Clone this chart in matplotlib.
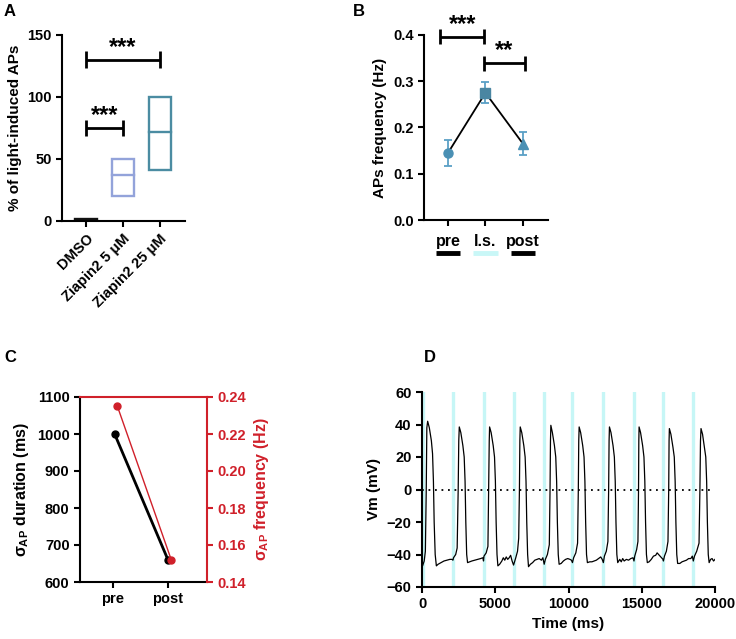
import matplotlib.pyplot as plt
import numpy as np

plt.rcParams['font.family'] = ['Liberation Sans', 'DejaVu Sans']
plt.rcParams['font.weight'] = 'bold'
plt.rcParams['axes.labelweight'] = 'bold'
plt.rcParams['font.size'] = 10.5
plt.rcParams['axes.linewidth'] = 1.5
plt.rcParams['xtick.major.width'] = 1.5
plt.rcParams['ytick.major.width'] = 1.5
plt.rcParams['xtick.major.size'] = 4
plt.rcParams['ytick.major.size'] = 4
plt.rcParams['mathtext.fontset'] = 'custom'
plt.rcParams['mathtext.rm'] = 'Liberation Sans:bold'
plt.rcParams['mathtext.it'] = 'Liberation Sans:bold'
plt.rcParams['mathtext.bf'] = 'Liberation Sans:bold'

W, H = 736, 639

# ---- panel A: % of light-induced APs (floating bars, min / mean / max)
a_groups = ['DMSO', 'Ziapin2 5 \u03bcM', 'Ziapin2 25 \u03bcM']
a_min = [0, 20, 41]
a_mean = [0, 37, 72]
a_max = [1.5, 50, 100]
a_colors = ['#111111', '#93a3da', '#4b8ca2']

# ---- panel B: APs frequency (Hz)
b_groups = ['pre', 'l.s.', 'post']
b_mean = [0.145, 0.275, 0.165]
b_err = [0.029, 0.023, 0.025]
b_bar_colors = ['black', '#c9f7f7', 'black']

# ---- panel C: sigma of AP duration / frequency
c_groups = ['pre', 'post']
c_duration = [1000, 660]
c_frequency = [0.235, 0.152]

# ---- panel D: membrane potential trace
stim_times = [40, 2114, 4205, 6295, 8341, 10273, 12386, 14477, 16477, 18523]
trace_t = [0, 40, 150, 230, 290, 330, 386, 500, 640, 720, 780, 830, 900, 980, 1100, 1300, 1500, 1700, 1900, 2050, 2110,
           2150, 2300, 2400, 2470, 2510, 2545, 2650, 2790, 2880, 2940, 2990, 3050, 3110, 3250, 3400, 3600, 3800, 4000, 4150, 4200,
           4230, 4380, 4500, 4550, 4590, 4614, 4720, 4860, 4950, 5010, 5060, 5120, 5180, 5300, 5450, 5550, 5650, 5750, 5850, 5950, 6050, 6150, 6250, 6300,
           6400, 6520, 6600, 6650, 6680, 6705, 6810, 6950, 7040, 7100, 7150, 7210, 7270, 7400, 7550, 7700, 7850, 8000, 8150, 8250, 8340,
           8420, 8560, 8690, 8740, 8770, 8795, 8900, 9040, 9130, 9190, 9240, 9300, 9360, 9500, 9650, 9800, 9950, 10100, 10200, 10270,
           10350, 10500, 10620, 10670, 10700, 10727, 10830, 10970, 11060, 11120, 11170, 11230, 11290, 11450, 11600, 11750, 11900, 12050, 12200, 12300, 12380,
           12450, 12580, 12690, 12740, 12770, 12795, 12900, 13040, 13130, 13190, 13240, 13300, 13360, 13500, 13600, 13700, 13800, 13950, 14100, 14250, 14400, 14470,
           14520, 14650, 14740, 14780, 14800, 14818, 14920, 15060, 15150, 15210, 15260, 15320, 15380, 15500, 15650, 15800, 15950, 16050, 16150, 16250, 16350, 16450, 16480,
           16550, 16680, 16790, 16840, 16865, 16886, 16990, 17130, 17220, 17280, 17330, 17390, 17450, 17600, 17750, 17900, 18050, 18200, 18350, 18450, 18520,
           18600, 18750, 18910, 18970, 19010, 19045, 19150, 19280, 19370, 19430, 19480, 19540, 19600, 19700, 19800, 19900, 20000]
trace_v = [-44, -47, -44, -38, 0, 38, 42, 38, 30, 22, 5, -20, -40, -47, -46, -45, -44, -43.5, -43, -43, -43.5,
           -42, -40, -36, 0, 30, 38.5, 35, 27, 20, 5, -20, -40, -45, -44.5, -44, -43.5, -43, -42.5, -42, -44,
           -41, -39, -35, 0, 30, 38.5, 35, 27, 20, 5, -20, -40, -47, -46, -44, -42, -43.5, -41.5, -43, -42, -40.5, -44, -46.5, -45,
           -42, -38, -30, 0, 30, 38.5, 35, 27, 20, 5, -20, -40, -47.5, -46, -45, -43.5, -43, -42.5, -43.5, -42, -46,
           -43, -40, -34, 0, 30, 39.5, 35, 27, 20, 5, -20, -40, -46, -45.5, -44, -43, -42.5, -43, -43.5, -45,
           -42, -39, -33, 0, 30, 38.5, 35, 27, 20, 5, -20, -40, -45, -44.5, -44.5, -44, -43.5, -42.5, -41.5, -43, -45,
           -41, -38, -32, 0, 30, 38.5, 35, 27, 20, 5, -20, -40, -45, -43, -44.5, -42.5, -44, -43, -43.5, -42.5, -42, -44,
           -41, -37, -32, 0, 30, 38.5, 35, 27, 20, 5, -20, -40, -45, -44.5, -43, -41, -40.5, -39, -40, -41, -42, -43, -44,
           -41, -38, -32, 0, 30, 37.5, 34, 26, 20, 5, -20, -40, -45.5, -45.5, -44.5, -44, -43.5, -42.5, -42.5, -41, -44,
           -41, -38, -33, 0, 30, 37.5, 34, 26, 20, 5, -20, -40, -45, -43, -42.5, -44, -43]


def box(l, t, r, b):
    return [l / W, 1 - b / H, (r - l) / W, (b - t) / H]


def style(ax):
    ax.spines['top'].set_visible(False)
    ax.spines['right'].set_visible(False)


def bracket(ax, x1, x2, y, dy, label, ty):
    ax.plot([x1, x2], [y, y], color='black', lw=2, clip_on=False, solid_capstyle='butt')
    for x in (x1, x2):
        ax.plot([x, x], [y - dy, y + dy], color='black', lw=2, clip_on=False, solid_capstyle='butt')
    ax.text((x1 + x2) / 2, ty, label, ha='center', va='center', fontsize=17, fontweight='bold')


fig = plt.figure(figsize=(W / 100, H / 100), dpi=100)

# ============ A ============
axA = fig.add_axes(box(62, 35, 185, 221))
style(axA)
xa = np.arange(len(a_groups))
for i in xa:
    fill = a_colors[i] if i == 0 else 'none'
    axA.bar(xa[i], a_max[i] - a_min[i], bottom=a_min[i], width=0.58,
            facecolor=fill, edgecolor=a_colors[i], linewidth=1.7)
    axA.plot([xa[i] - 0.29, xa[i] + 0.29], [a_mean[i], a_mean[i]], color=a_colors[i], lw=1.7)
axA.set_xlim(-0.65, 2.68)
axA.set_ylim(0, 150)
axA.set_yticks([0, 50, 100, 150])
axA.set_xticks(xa)
axA.set_xticklabels(a_groups, rotation=45, ha='right', rotation_mode='anchor')
axA.set_ylabel('% of light-induced APs', fontsize=11)
bracket(axA, 0, 1, 75, 6.5, '***', 85)
bracket(axA, 0, 2, 130, 7, '***', 140)

# ============ B ============
axB = fig.add_axes(box(424, 35, 548, 220))
style(axB)
xb = np.arange(len(b_groups))
axB.plot(xb, b_mean, color='black', lw=1.3, zorder=2)
markers = ['o', 's', '^']
mcolors = ['#4a90b4', '#4a86a2', '#4a90b4']
for i in xb:
    axB.errorbar(xb[i], b_mean[i], yerr=b_err[i], fmt='none', ecolor='#5ba0c6',
                 elinewidth=1.3, capsize=3, capthick=1.3, zorder=1)
    axB.plot(xb[i], b_mean[i], marker=markers[i], color=mcolors[i], ms=6.5, zorder=3)
axB.set_xlim(-0.64, 2.67)
axB.set_ylim(0, 0.4)
axB.set_yticks([0, 0.1, 0.2, 0.3, 0.4])
axB.set_yticklabels(['%.1f' % v for v in [0, 0.1, 0.2, 0.3, 0.4]])
axB.set_xticks(xb)
axB.set_xticklabels(b_groups, fontsize=11.5)
axB.tick_params(axis='x', pad=6)
axB.set_ylabel('APs frequency (Hz)', fontsize=11)
bracket(axB, -0.21, 0.97, 0.396, 0.016, '***', 0.422)
bracket(axB, 0.97, 2.05, 0.339, 0.016, '**', 0.366)
for i in xb:
    axB.plot([xb[i] - 0.33, xb[i] + 0.33], [-0.072, -0.072], color=b_bar_colors[i], lw=3.5,
             clip_on=False, solid_capstyle='butt')

# ============ C ============
red = '#d0202a'
axC = fig.add_axes(box(80, 397, 207, 582))
axC.spines['top'].set_color(red)
axC.spines['right'].set_visible(False)
xc = np.arange(len(c_groups))
axC.plot(xc + np.array([0.03, 0.0]), c_duration, color='black', lw=2, marker='o', ms=5, zorder=3)
axC.set_xlim(-0.6, 1.71)
axC.set_ylim(600, 1100)
axC.set_yticks(range(600, 1101, 100))
axC.set_xticks(xc)
axC.set_xticklabels(c_groups, fontsize=10.5)
axC.set_ylabel(r'$\sigma_{\mathrm{AP}}$ duration (ms)', fontsize=11.5)
axC2 = axC.twinx()
for s in ['top', 'left', 'bottom']:
    axC2.spines[s].set_visible(False)
axC2.spines['right'].set_color(red)
axC2.plot(xc + np.array([0.08, 0.06]), c_frequency, color=red, lw=1, marker='o', ms=5, zorder=3)
axC2.set_ylim(0.14, 0.24)
axC2.set_yticks([0.14, 0.16, 0.18, 0.20, 0.22, 0.24])
axC2.set_yticklabels(['%.2f' % v for v in [0.14, 0.16, 0.18, 0.20, 0.22, 0.24]], color=red)
axC2.tick_params(axis='y', colors=red, width=1.5, length=4)
axC2.set_ylabel(r'$\sigma_{\mathrm{AP}}$ frequency (Hz)', fontsize=11.5, color=red)

# ============ D ============
axD = fig.add_axes(box(422, 392, 715, 587))
style(axD)
for t in stim_times:
    axD.axvline(t, color='#c6f6f6', lw=2.4, zorder=1)
axD.plot([0, 19700], [0, 0], color='black', lw=1.3, ls=(0, (1, 2.6)), zorder=2)
axD.plot(trace_t, trace_v, color='black', lw=0.9, zorder=3)
axD.set_xlim(0, 20000)
axD.set_ylim(-60, 60)
axD.set_yticks(range(-60, 61, 20))
axD.set_xticks(range(0, 20001, 5000))
axD.set_xlabel('Time (ms)', fontsize=11)
axD.set_ylabel('Vm (mV)', fontsize=11)

# panel letters
for letter, (x, y) in zip('ABCD', [(4, 16), (353, 16), (4, 362), (424, 362)]):
    fig.text(x / W, 1 - y / H, letter, fontsize=12, fontweight='bold', ha='left', va='baseline')

fig.savefig('out.png', dpi=100)
